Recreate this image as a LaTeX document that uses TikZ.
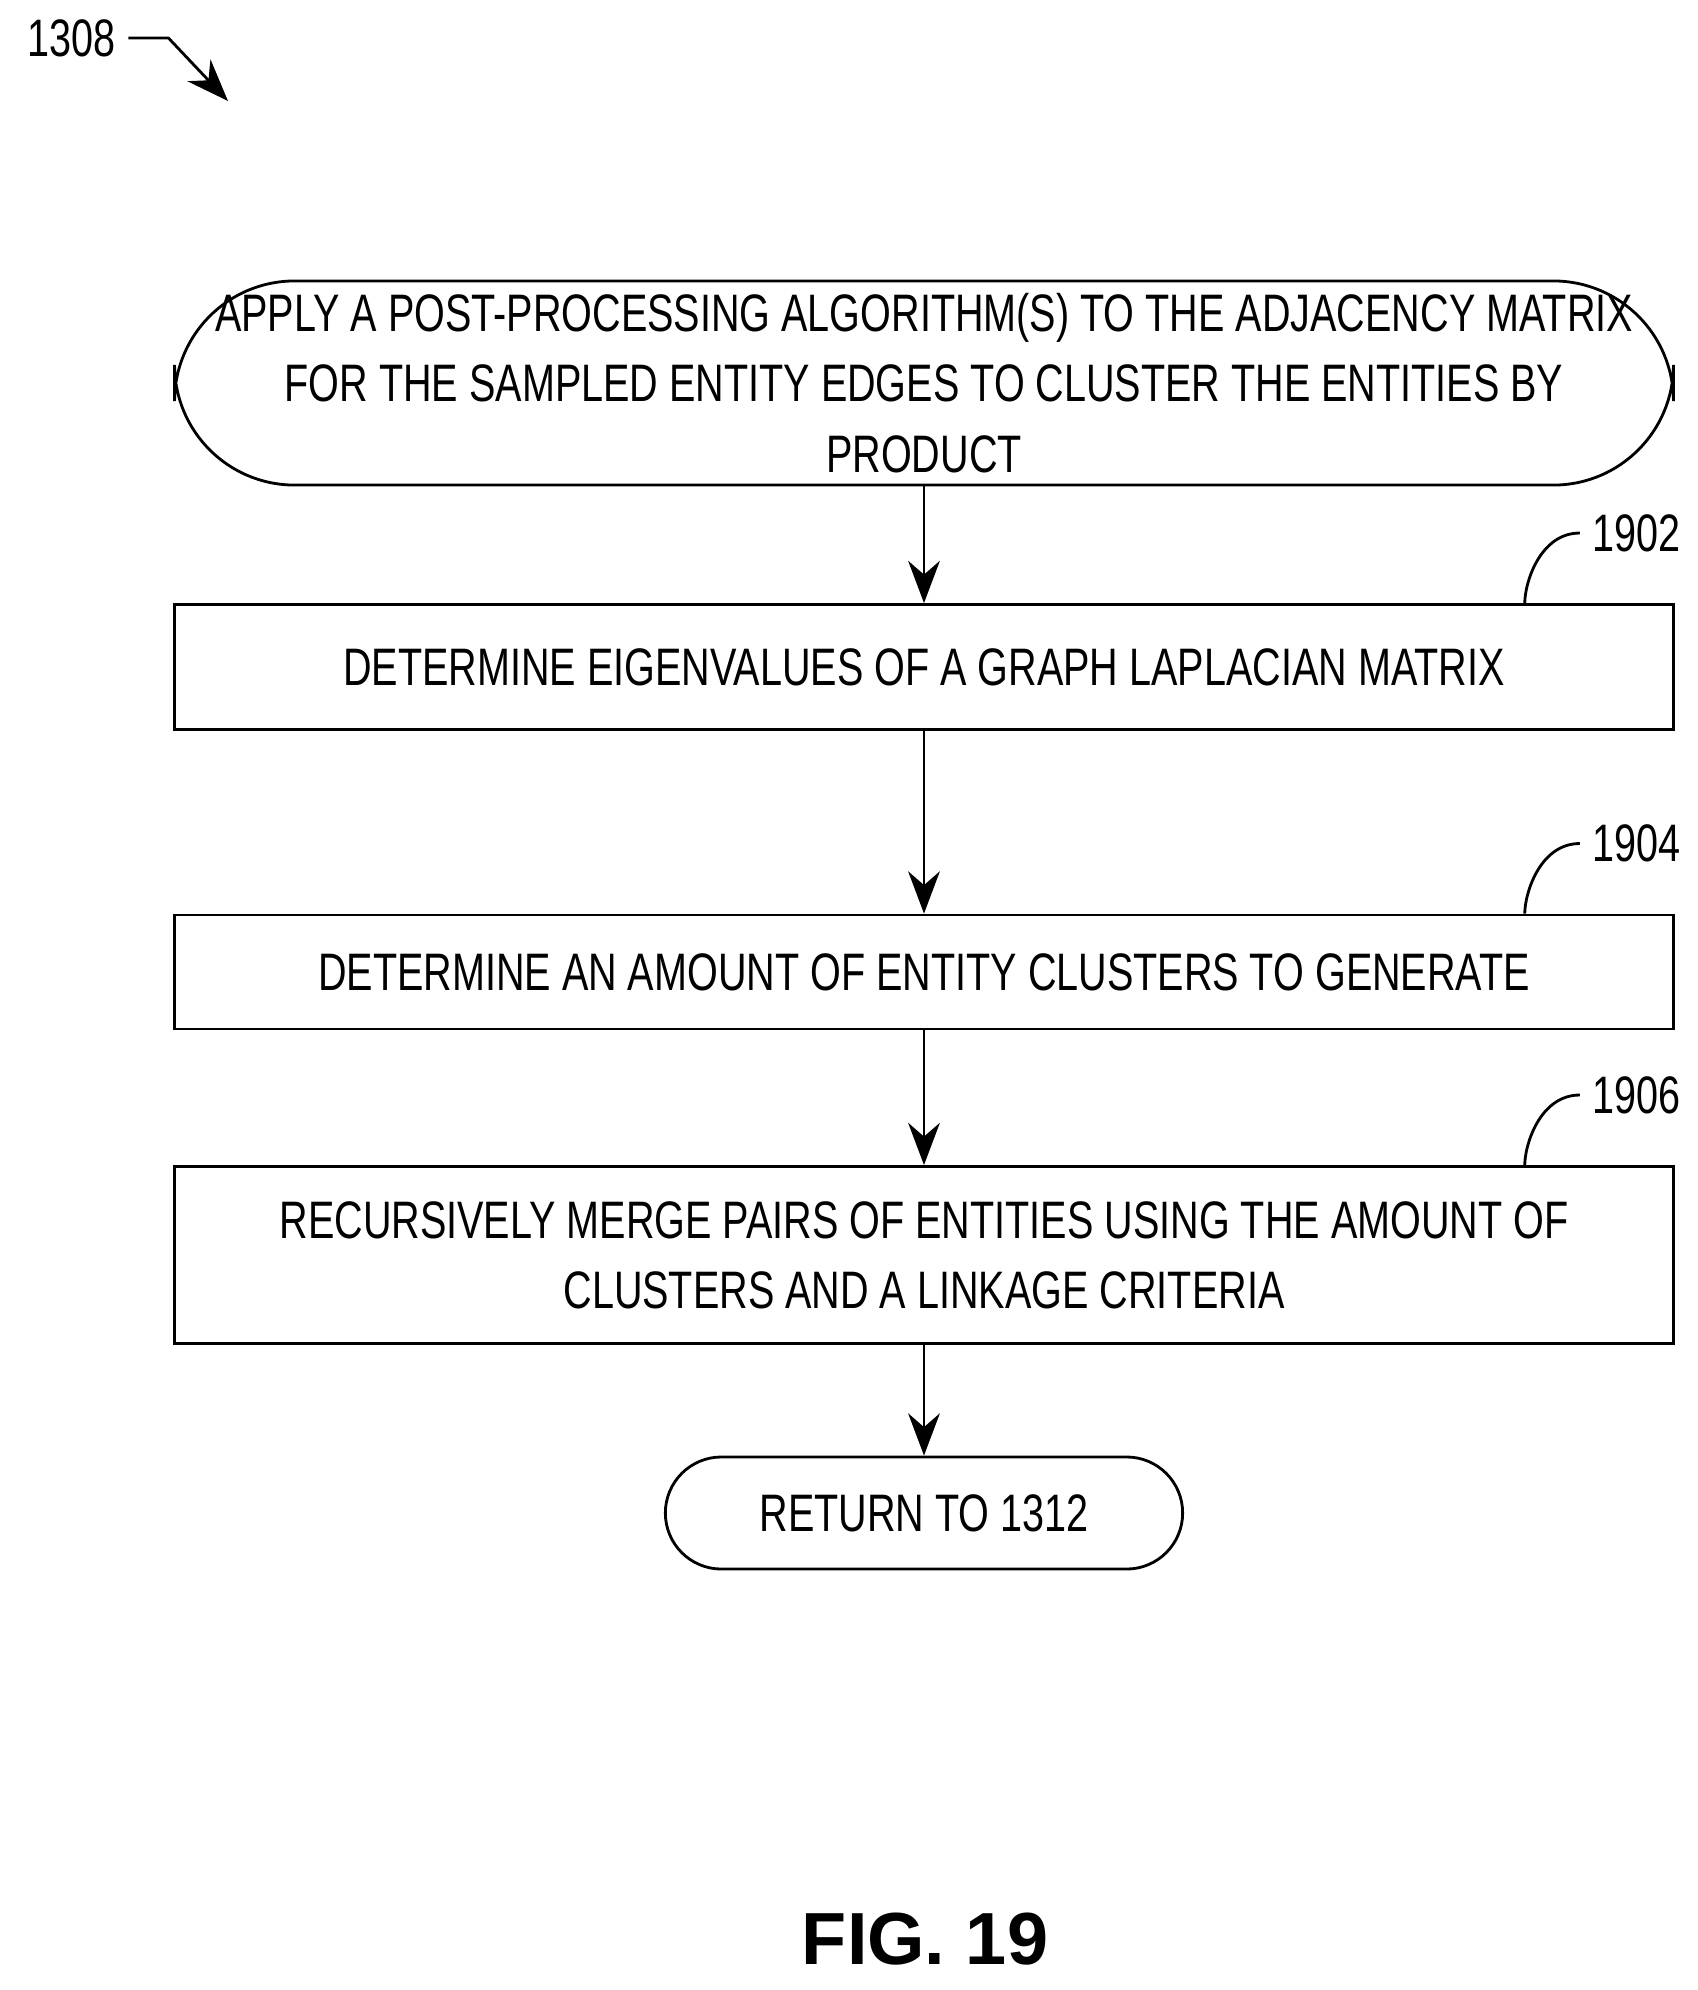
\documentclass[tikz,border=0pt]{standalone}
\usepackage{fontspec}
\setmainfont{Liberation Sans}[FakeStretch=0.75]
\newfontfamily\figfont{Liberation Sans}
\usetikzlibrary{positioning,arrows.meta}
\begin{document}
\begin{tikzpicture}[x=0.01cm,y=-0.01cm,
		block/.style={draw,thick,minimum width=14.98cm,align=center,font=\fontsize{15}{20}\selectfont},
		term/.style={block,rounded corners=1.2cm},
		flow/.style={-{Stealth[length=12pt,width=9pt]},thick}]
		\useasboundingbox (0,0) rectangle (1698,1990);
		% process blocks
		\node[term,minimum height=2.04cm] (apply) at (924,383) {APPLY A POST-PROCESSING ALGORITHM(S) TO THE ADJACENCY MATRIX\\FOR THE SAMPLED ENTITY EDGES TO CLUSTER THE ENTITIES BY\\PRODUCT};
		\node[block,minimum height=1.25cm] (eigen) at (924,667) {DETERMINE EIGENVALUES OF A GRAPH LAPLACIAN MATRIX};
		\node[block,minimum height=1.14cm] (amount) at (924,972) {DETERMINE AN AMOUNT OF ENTITY CLUSTERS TO GENERATE};
		\node[block,minimum height=1.77cm] (merge) at (924,1255) {RECURSIVELY MERGE PAIRS OF ENTITIES USING THE AMOUNT OF\\CLUSTERS AND A LINKAGE CRITERIA};
		\node[term,minimum width=5.17cm,minimum height=1.12cm,rounded corners=0.56cm] (ret) at (924,1513) {RETURN TO 1312};
		
		% arrows between blocks
		\draw[flow] (apply) -- (eigen);
		\draw[flow] (eigen) -- (amount);
		\draw[flow] (amount) -- (merge);
		\draw[flow] (merge) -- (ret);
		
		% reference numerals
		\foreach \blk/\num in {eigen/1902,amount/1904,merge/1906} {
			\node[font=\fontsize{15}{20}\selectfont,anchor=west] (n\num) at ([xshift=-0.95cm,yshift=0.7cm]\blk.north east) {\num};
			\draw[thick] (n\num.west) .. controls +(-40,0) and +(0,-20) .. ([xshift=-1.5cm]\blk.north east);
		}
		\node[font=\fontsize{15}{20}\selectfont] (n1308) at (72,38) {1308};
		\coordinate (tip) at (228,101);
		\draw[thick,-{Stealth[length=12pt,width=9pt]}] (n1308.east) -- ++(40,0) -- (tip);
		\node[font=\figfont\bfseries\fontsize{21}{24}\selectfont] (fig) at (925,1939) {FIG. 19};
\end{tikzpicture}
\end{document}
